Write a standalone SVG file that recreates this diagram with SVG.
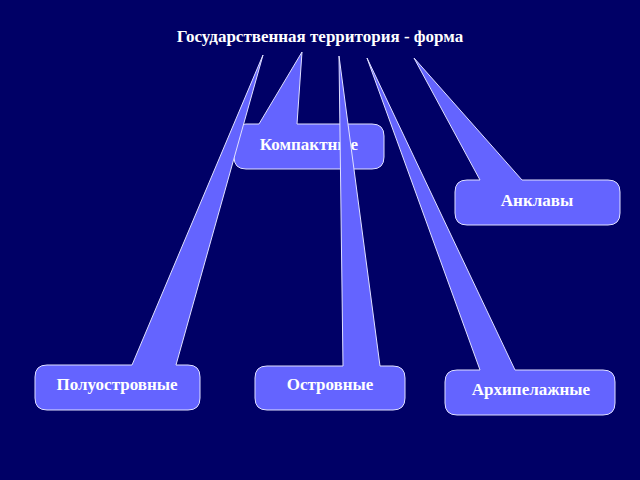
<svg xmlns="http://www.w3.org/2000/svg" width="640" height="480" viewBox="0 0 640 480">
<style>
.c{fill:#6464ff;stroke:#e0e0ff;stroke-width:1}
.t{font-family:"Liberation Serif",serif;font-weight:bold;fill:#fff;font-size:17px;text-anchor:middle}
</style>
<rect width="640" height="480" fill="#000066"/>
<text x="320" y="42" class="t">Государственная территория - форма</text>
<g id="connectors"></g>
<g id="kompakt"><path class="c" d="M246,124 L259,124 L302,52 L297,124 L372,124 Q384,124 384,136 L384,157 Q384,169 372,169 L246,169 Q234,169 234,157 L234,136 Q234,124 246,124Z"/><text x="309" y="150" class="t">Компактные</text></g>
<g id="anklav"><path class="c" d="M467,180 L480,180 L414,58 L522,180 L608,180 Q620,180 620,192 L620,213 Q620,225 608,225 L467,225 Q455,225 455,213 L455,192 Q455,180 467,180Z"/><text x="537" y="206" class="t">Анклавы</text></g>
<g id="poluostr"><path class="c" d="M47,365 L132,365 L263,55 L176,365 L188,365 Q200,365 200,377 L200,398 Q200,410 188,410 L47,410 Q35,410 35,398 L35,377 Q35,365 47,365Z"/><text x="117" y="390" class="t">Полуостровные</text></g>
<g id="ostrov"><path class="c" d="M267,366 L343,366 L339,56 L380,366 L393,366 Q405,366 405,378 L405,398 Q405,410 393,410 L267,410 Q255,410 255,398 L255,378 Q255,366 267,366Z"/><text x="330" y="390" class="t">Островные</text></g>
<g id="arhipel"><path class="c" d="M457,370 L480,370 L367,58 L515,370 L603,370 Q615,370 615,382 L615,403 Q615,415 603,415 L457,415 Q445,415 445,403 L445,382 Q445,370 457,370Z"/><text x="531" y="395" class="t">Архипелажные</text></g>
</svg>
